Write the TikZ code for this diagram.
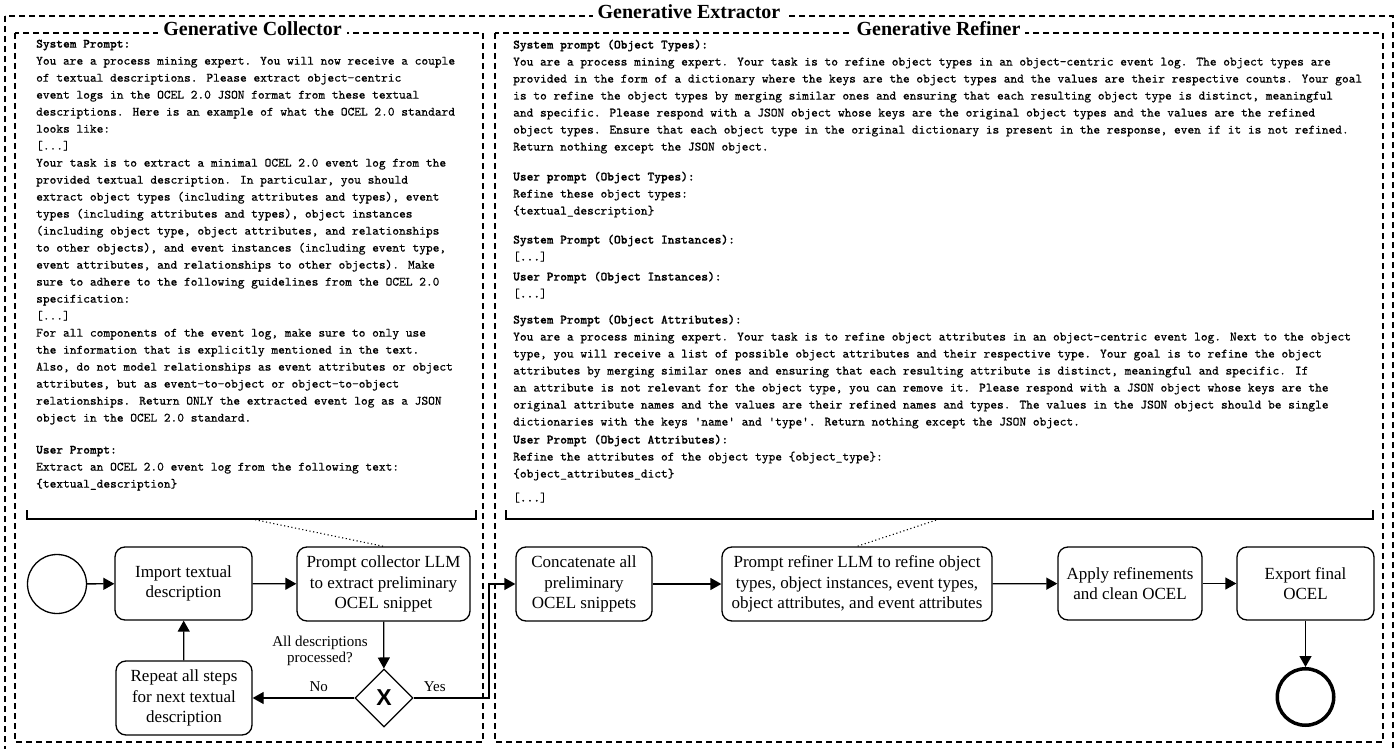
\documentclass[tikz,border=0pt]{standalone}
\usepackage{fontspec}
\setmainfont{Liberation Serif}
\newfontfamily\xsans{Liberation Sans}
\newfontfamily\prompttt{lmmono10-regular.otf}[FakeBold=0.5, BoldFont=lmmonolt10-bold.otf]
\usetikzlibrary{arrows.meta,shapes.geometric,calc}
\newcommand\elided{{[}...{]}}
\begin{document}
\begin{tikzpicture}[x=1pt,y=-1pt,
  frame/.style={draw, line width=1.2pt, dash pattern=on 6pt off 4pt},
  frametitle/.style={fill=white, inner xsep=5pt, inner ysep=1pt, font=\fontsize{20}{24}\selectfont\bfseries},
  prompt/.style={anchor=north west, inner sep=0pt, align=left, font=\fontsize{12.8}{17}\selectfont\prompttt},
  task/.style={draw, line width=1.3pt, rounded corners=10pt, align=center, inner sep=2pt, font=\fontsize{17}{20.8}\selectfont},
  flow/.style={line width=1.3pt, -{Triangle[length=11pt,width=12pt]}},
  note/.style={font=\fontsize{15}{16}\selectfont, align=center, inner sep=0pt},
  bracket/.style={line width=1.3pt},
  link/.style={line width=1.1pt, dash pattern=on 1.1pt off 2.6pt},
]
\useasboundingbox (0,0) rectangle (1398,749);

% ---- frames -------------------------------------------------------------
\draw[frame] (5,16) rectangle (1393,753);
\draw[frame] (15,33) rectangle (483,742);
\draw[frame] (495,33) rectangle (1383,742);
\node[frametitle] (gx) at (689,12) {Generative Extractor};
\node[frametitle] (gc) at (252.5,29) {Generative Collector};
\node[frametitle] (gr) at (938.5,29) {Generative Refiner};

% ---- collector prompt ---------------------------------------------------
\node[prompt] (collp) at (36,39.5) {\textbf{System Prompt:}\\
You are a process mining expert. You will now receive a couple\\
of textual descriptions. Please extract object-centric\\
event logs in the OCEL 2.0 JSON format from these textual\\
descriptions. Here is an example of what the OCEL 2.0 standard\\
looks like:\\
\elided\\
Your task is to extract a minimal OCEL 2.0 event log from the\\
provided textual description. In particular, you should\\
extract object types (including attributes and types), event\\
types (including attributes and types), object instances\\
(including object type, object attributes, and relationships\\
to other objects), and event instances (including event type,\\
event attributes, and relationships to other objects). Make\\
sure to adhere to the following guidelines from the OCEL 2.0\\
specification:\\
\elided\\
For all components of the event log, make sure to only use\\
the information that is explicitly mentioned in the text.\\
Also, do not model relationships as event attributes or object\\
attributes, but as event-to-object or object-to-object\\
relationships. Return ONLY the extracted event log as a JSON\\
object in the OCEL 2.0 standard.\\[15pt]
\textbf{User Prompt:}\\
Extract an OCEL 2.0 event log from the following text:\\
\{textual\_description\}};

% ---- refiner prompts ----------------------------------------------------
\node[prompt] (refp) at (513,39.5) {\textbf{System prompt (Object Types):}\\
You are a process mining expert. Your task is to refine object types in an object-centric event log. The object types are\\
provided in the form of a dictionary where the keys are the object types and the values are their respective counts. Your goal\\
is to refine the object types by merging similar ones and ensuring that each resulting object type is distinct, meaningful\\
and specific. Please respond with a JSON object whose keys are the original object types and the values are the refined\\
object types. Ensure that each object type in the original dictionary is present in the response, even if it is not refined.\\
Return nothing except the JSON object.\\[13pt]
\textbf{User prompt (Object Types):}\\
Refine these object types:\\
\{textual\_description\}\\[12pt]
\textbf{System Prompt (Object Instances):}\\
\elided\\[3pt]
\textbf{User Prompt (Object Instances):}\\
\elided\\[9pt]
\textbf{System Prompt (Object Attributes):}\\
You are a process mining expert. Your task is to refine object attributes in an object-centric event log. Next to the object\\
type, you will receive a list of possible object attributes and their respective type. Your goal is to refine the object\\
attributes by merging similar ones and ensuring that each resulting attribute is distinct, meaningful and specific. If\\
an attribute is not relevant for the object type, you can remove it. Please respond with a JSON object whose keys are the\\
original attribute names and the values are their refined names and types. The values in the JSON object should be single\\
dictionaries with the keys 'name' and 'type'. Return nothing except the JSON object.\\[1pt]
\textbf{User Prompt (Object Attributes):}\\
Refine the attributes of the object type \{object\_type\}:\\
\{object\_attributes\_dict\}\\[7pt]
\elided};

% ---- brackets tying the prompts to their tasks --------------------------
\draw[bracket] (27,510) -- (27,519) -- (476,519) -- (476,510);
\coordinate (cmid) at (251.5,519);
\draw[bracket] (506,510) -- (506,519) -- (1373,519) -- (1373,510);
\coordinate (rmid) at (939.5,519);

% ---- collector process --------------------------------------------------
\node[draw, circle, line width=1.3pt, minimum size=59pt, inner sep=0pt] (start) at (57,584) {};
\node[task, minimum width=137pt, minimum height=73pt] (import) at (183.5,583.5) {Import textual\\description};
\node[task, minimum width=173pt, minimum height=74pt] (collect) at (383.5,584) {Prompt collector LLM\\to extract preliminary\\OCEL snippet};
\node[task, minimum width=136pt, minimum height=74pt] (repeat) at (184,698) {Repeat all steps\\for next textual\\description};
\node[draw, diamond, line width=1.3pt, minimum width=58pt, minimum height=58pt, inner sep=0pt] (gate) at (384,698) {\xsans\fontsize{23}{23}\selectfont\bfseries X};
\node[note] (ask) at (320,651) {All descriptions\\processed?};

\draw[link] (cmid) -- (collect.north);
\draw[flow] (start) -- (import);
\draw[flow] (import) -- (collect);
\draw[flow] (collect) -- (gate);
\draw[flow] (gate) -- node[note, pos=0.35, above=6pt] {No} (repeat);
\draw[flow] (repeat) -- (import);

% ---- refiner process ----------------------------------------------------
\node[task, minimum width=136pt, minimum height=74pt] (concat) at (584,584) {Concatenate all\\preliminary\\OCEL snippets};
\node[task, minimum width=270pt, minimum height=74pt] (refine) at (857,584) {Prompt refiner LLM to refine object\\types, object instances, event types,\\object attributes, and event attributes};
\node[task, minimum width=144pt, minimum height=73pt] (apply) at (1130,583.5) {Apply refinements\\and clean OCEL};
\node[task, minimum width=137pt, minimum height=73pt] (export) at (1305.5,583.5) {Export final\\OCEL};
\node[draw, circle, line width=3.5pt, minimum size=56.5pt, inner sep=0pt] (end) at (1305.5,697) {};

\coordinate (bend) at (489,698);
\draw[flow] (gate.east) -- node[note, pos=0.28, above=6pt] {Yes} (bend) |- (concat.west);
\draw[link] (rmid) -- (refine.north);
\draw[flow] (concat) -- (refine);
\draw[flow] (refine) -- (apply);
\draw[flow] (apply) -- (export);
\draw[flow] (export) -- (end);
\end{tikzpicture}
\end{document}
